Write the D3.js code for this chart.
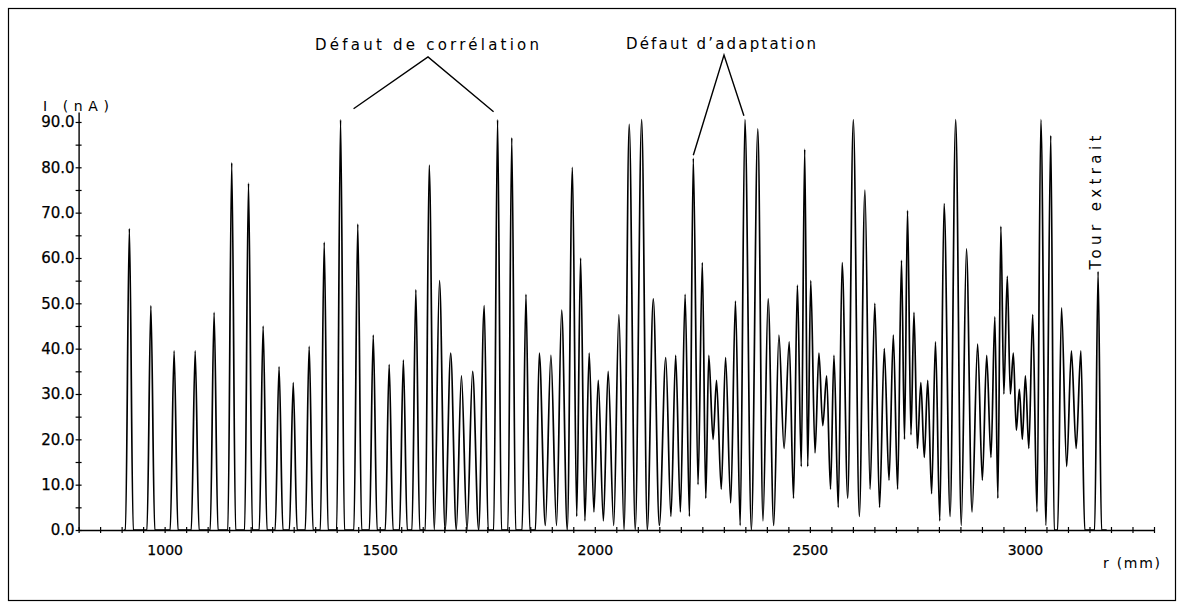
<!DOCTYPE html>
<html>
<head>
<meta charset="utf-8">
<script src="https://cdn.jsdelivr.net/npm/d3@7"></script>
<style>
  html, body { margin: 0; padding: 0; background: #fff; }
  svg { display: block; }
  text { font-family: "DejaVu Sans", sans-serif; fill: #000; }
</style>
</head>
<body>
<svg id="chart" width="1183" height="612"></svg>
<script>
// Current maxima along the radius r (mm) -> I (nA)
const peakR = [918, 968, 1022, 1071, 1115, 1156, 1195, 1229, 1266, 1299,
  1336, 1371, 1409, 1449, 1485, 1522, 1555, 1584, 1615, 1639,
  1665, 1690, 1716, 1743, 1774, 1807, 1840, 1871, 1898, 1923,
  1948, 1967, 1987, 2008, 2031, 2056, 2080, 2109, 2136, 2165,
  2188, 2210, 2229, 2250, 2265, 2283, 2304, 2327, 2349, 2379,
  2403, 2428, 2452, 2471, 2488, 2502, 2521, 2539, 2556, 2575,
  2601, 2628, 2651, 2673, 2694, 2713, 2727, 2742, 2758, 2774,
  2792, 2812, 2839, 2864, 2890, 2911, 2930, 2944, 2959, 2973,
  2987, 3001, 3018, 3037, 3060, 3085, 3108, 3130, 3170];
const peakI = [66.5, 49.5, 39.5, 39.5, 48, 81, 76.5, 45, 36, 32.5,
  40.5, 63.5, 90.5, 67.5, 43, 36.5, 37.5, 53, 80.5, 55,
  39, 34, 35, 49.5, 90.5, 86.5, 52, 39, 38.5, 48.5,
  80, 60, 39, 33, 35, 47.5, 89.5, 90.5, 51, 38,
  38.5, 52, 82, 59, 38.5, 33, 38, 50.5, 90.5, 88.5,
  51, 43, 41.5, 54, 84, 55, 39, 34, 38.5, 59,
  90.5, 75, 50, 40, 43, 59.5, 70.5, 48, 32.5, 33,
  41.5, 72, 90.5, 62, 41, 38.5, 47, 67, 56, 39,
  31, 34, 47.5, 90.5, 87, 49, 39.5, 39.5, 57];

// Troughs and feet of the trace between the maxima
const troughR = [905, 909, 927, 959, 977, 1013, 1031, 1062, 1080, 1106, 1124,
  1147, 1165, 1186, 1204, 1220, 1238, 1257, 1275, 1290, 1308,
  1327, 1345, 1362, 1380, 1400, 1418, 1440, 1458, 1476, 1494,
  1513, 1531, 1546, 1564, 1575, 1593, 1606, 1627, 1652, 1678,
  1703, 1730, 1752, 1765, 1783, 1798, 1816, 1831, 1849, 1862,
  1885, 1911, 1936, 1958, 1977, 1998, 2020, 2044, 2068, 2094,
  2122, 2150, 2177, 2199, 2220, 2240, 2258, 2275, 2294, 2316,
  2338, 2364, 2391, 2416, 2440, 2462, 2480, 2495, 2512, 2530,
  2548, 2566, 2588, 2615, 2640, 2662, 2684, 2704, 2720, 2735,
  2750, 2766, 2783, 2802, 2826, 2852, 2877, 2901, 2921, 2937,
  2951, 2966, 2980, 2994, 3009, 3028, 3049, 3068, 3076, 3097,
  3119, 3139, 3162, 3178, 3190];
const troughI = [0, 0, 0, 0, 0, 0, 0, 0, 0, 0, 0,
  0, 0, 0, 0, 0, 0, 0, 0, 0, 0,
  0, 0, 0, 0, 0, 0, 0, 0, 0, 0,
  0, 0, 0, 0, 0, 0, 0, 0, 0, 0,
  0, 0, 0, 0, 0, 0, 0, 0, 0, 0,
  1, 1, 0, 3, 2, 4, 2, 1, 0, 0,
  0, 1, 3, 4, 3, 10, 7, 20, 9, 6,
  1, 0, 2, 1, 18, 7, 14, 14, 17, 23,
  9, 5, 7, 3, 9, 5, 11, 9, 20, 21,
  18, 16, 8, 2, 3, 1, 4, 11, 16, 7,
  30, 30, 22, 20, 18, 4, 1, 0, 0, 14,
  18, 0, 0, 0, 0];

const xTicks = [1000, 1500, 2000, 2500, 3000];
const yTicks = [0, 10, 20, 30, 40, 50, 60, 70, 80, 90];

const svg = d3.select("#chart");

// page frame
svg.append("rect")
  .attr("x", 8.5).attr("y", 8.5)
  .attr("width", 1167).attr("height", 592)
  .attr("fill", "none").attr("stroke", "#000").attr("stroke-width", 1.2);

// the vertical axis runs a little past 90 nA
const x = d3.scaleLinear().domain([800, 3300]).range([78.6, 1154]);
const y = d3.scaleLinear().domain([0, 92.2]).range([530, 112]);

// axes with small cross ticks every 50 mm and every 5 nA
const gx = svg.append("g").attr("transform", `translate(0,${y(0)})`)
  .call(d3.axisBottom(x).tickValues(d3.range(800, 3301, 50)).tickSize(0).tickFormat(""));
gx.select(".domain").attr("stroke", "#000").attr("stroke-width", 1.4);
gx.selectAll(".tick").append("line").attr("y1", -3).attr("y2", 3)
  .attr("stroke", "#000").attr("stroke-width", 1.2);

const gxl = svg.append("g").attr("transform", `translate(0,${y(0)})`)
  .call(d3.axisBottom(x).tickValues(xTicks).tickSize(0).tickPadding(15).tickFormat(d3.format("d")));
gxl.select(".domain").remove();
gxl.selectAll("text").attr("font-size", 14).attr("fill", "#000")
  .attr("stroke", "#000").attr("stroke-width", 0.25);

const gy = svg.append("g").attr("transform", `translate(${x(800)},0)`)
  .call(d3.axisLeft(y).tickValues(d3.range(0, 90.1, 5)).tickSize(0).tickFormat(""));
gy.select(".domain").attr("stroke", "#000").attr("stroke-width", 1.4);
gy.selectAll(".tick").append("line").attr("x1", -3).attr("x2", 3)
  .attr("stroke", "#000").attr("stroke-width", 1.2);

const gyl = svg.append("g").attr("transform", `translate(${x(800)},0)`)
  .call(d3.axisLeft(y).tickValues(yTicks).tickSize(0).tickPadding(4).tickFormat(d3.format(".1f")));
gyl.select(".domain").remove();
gyl.selectAll("text").attr("font-size", 15).attr("fill", "#000")
  .attr("stroke", "#000").attr("stroke-width", 0.25);

// axis titles
svg.append("text").attr("x", 43).attr("y", 111).attr("font-size", 14)
  .attr("textLength", 66).attr("lengthAdjust", "spacing").text("I (nA)");
svg.append("text").attr("x", 1103).attr("y", 568).attr("font-size", 14)
  .attr("textLength", 57).attr("lengthAdjust", "spacing").text("r (mm)");

// measured trace
const pts = peakR.map((r, i) => [r, peakI[i]])
  .concat(troughR.map((r, i) => [r, troughI[i]]))
  .sort((a, b) => a[0] - b[0]);
const line = d3.line().x(d => x(d[0])).y(d => y(d[1])).curve(d3.curveMonotoneX);
svg.append("path").datum(pts)
  .attr("d", line)
  .attr("fill", "none").attr("stroke", "#000")
  .attr("stroke-width", 1.7).attr("stroke-linejoin", "round");

// annotations
const note = svg.append("g").attr("stroke", "#000").attr("stroke-width", 1.4).attr("fill", "none");
const peakTop = r => { const i = peakR.indexOf(r); return [x(r), y(peakI[i])]; };

svg.append("text").attr("x", 315).attr("y", 50).attr("font-size", 15)
  .attr("textLength", 224).attr("lengthAdjust", "spacing").text("Défaut de corrélation");
const a1 = [428, 57];
const c1 = peakTop(1409), c2 = peakTop(1774);
note.append("polyline").attr("points",
  [[c1[0] + 13, c1[1] - 11], a1, [c2[0] - 4, c2[1] - 8]].map(p => p.join(",")).join(" "));

svg.append("text").attr("x", 626).attr("y", 49).attr("font-size", 15)
  .attr("textLength", 190).attr("lengthAdjust", "spacing").text("Défaut d\u2019adaptation");
const a2 = [724, 55];
const d1 = peakTop(2229), d2 = peakTop(2349);
note.append("polyline").attr("points",
  [[d1[0], d1[1] - 3], a2, [d2[0] - 1, d2[1] - 4]].map(p => p.join(",")).join(" "));

// last turn label, standing on the final peak
const tr = peakTop(peakR[peakR.length - 1]);
svg.append("text")
  .attr("transform", `translate(${tr[0] + 3},${tr[1] - 2}) rotate(-90)`)
  .attr("font-size", 15).attr("textLength", 134).attr("lengthAdjust", "spacing")
  .text("Tour extrait");
</script>
</body>
</html>
